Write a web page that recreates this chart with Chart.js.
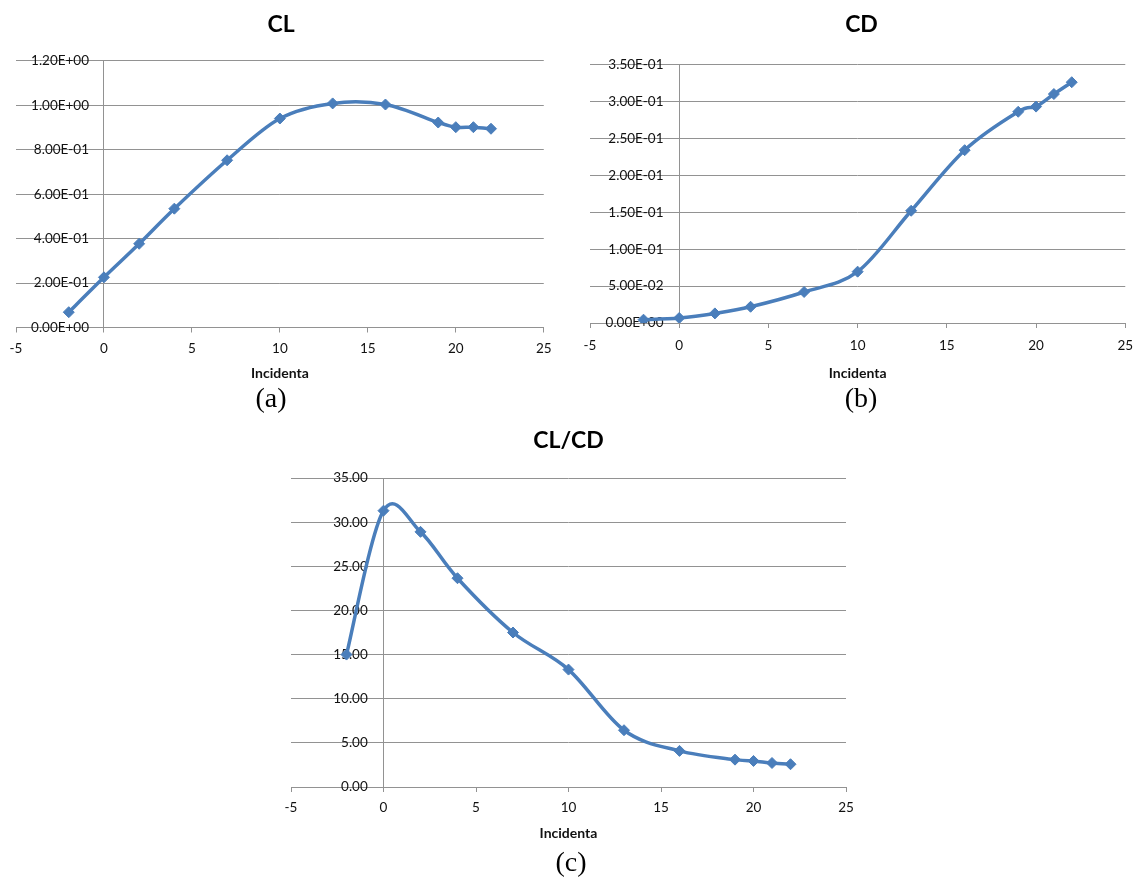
<!DOCTYPE html>
<html>
<head>
<meta charset="utf-8">
<script src="https://cdn.jsdelivr.net/npm/chart.js@4.4.1/dist/chart.umd.min.js"></script>
<style>
  html, body { margin: 0; padding: 0; background: #ffffff; }
  body { width: 1143px; height: 880px; position: relative; overflow: hidden; }
  canvas { position: absolute; }
  .caption {
    position: absolute; width: 100px; text-align: center;
    font-family: "Liberation Serif", "DejaVu Serif", serif;
    font-size: 28px; line-height: 32px; color: #000;
  }
</style>
</head>
<body>
<canvas id="chartCL" width="560" height="400" style="left:0px;top:0px;"></canvas>
<canvas id="chartCD" width="583" height="400" style="left:560px;top:0px;"></canvas>
<canvas id="chartCLCD" width="600" height="430" style="left:270px;top:420px;"></canvas>
<div class="caption" id="capA" style="left:221px;top:382px;"></div>
<div class="caption" id="capB" style="left:811px;top:382px;"></div>
<div class="caption" id="capC" style="left:521px;top:846px;"></div>
<script>
// ---- data ----
const incidence = [-2, 0, 2, 4, 7, 10, 13, 16, 19, 20, 21, 22];
const clValues = [0.069, 0.226, 0.377, 0.535, 0.753, 0.941, 1.009, 1.004, 0.923, 0.902, 0.902, 0.895];
const cdValues = [0.0045, 0.0068, 0.013, 0.022, 0.042, 0.0695, 0.152, 0.234, 0.286, 0.293, 0.310, 0.326];
const clcdValues = [15.0, 31.3, 28.9, 23.65, 17.5, 13.3, 6.43, 4.09, 3.1, 2.95, 2.72, 2.58];

const xTicks = [-5, 0, 5, 10, 15, 20, 25];
const clTickLabels = ['0.00E+00', '2.00E-01', '4.00E-01', '6.00E-01', '8.00E-01', '1.00E+00', '1.20E+00'];
const cdTickLabels = ['0.00E+00', '5.00E-02', '1.00E-01', '1.50E-01', '2.00E-01', '2.50E-01', '3.00E-01', '3.50E-01'];
const clcdTickLabels = ['0.00', '5.00', '10.00', '15.00', '20.00', '25.00', '30.00', '35.00'];

const titles = ['CL', 'CD', 'CL/CD'];
const captions = ['(a)', '(b)', '(c)'];
const xAxisTitle = 'Incidenta';

document.getElementById('capA').textContent = captions[0];
document.getElementById('capB').textContent = captions[1];
document.getElementById('capC').textContent = captions[2];

// ---- styling ----
const LINE_COLOR = '#4a7ebb';
const GRID_COLOR = '#929292';
const TEXT_COLOR = '#111111';
const SANS = 'Lato, "Open Sans", "Liberation Sans", sans-serif';

// Spreadsheet-style smoothed line: uniform Catmull-Rom control points
const smoothLinePlugin = {
  id: 'smoothLine',
  beforeDatasetsDraw(chart) {
    const k = 1 / 6;
    chart.getSortedVisibleDatasetMetas().forEach(meta => {
      const pts = meta.data;
      const n = pts.length;
      for (let i = 0; i < n; i++) {
        const p = pts[i];
        const prev = pts[Math.max(i - 1, 0)];
        const next = pts[Math.min(i + 1, n - 1)];
        const dx = next.x - prev.x, dy = next.y - prev.y;
        p.cp1x = p.x - k * dx; p.cp1y = p.y - k * dy;
        p.cp2x = p.x + k * dx; p.cp2y = p.y + k * dy;
      }
      if (meta.dataset) {
        meta.dataset._pointsUpdated = true;
        meta.dataset._path = undefined;
      }
    });
  }
};

function makeChart(id, values, yMax, yStep, yLabels, title, L) {
  const W = L.w, H = L.h;
  const titleSize = 23, titleLH = titleSize * 1.2;
  const tickSize = 13.5, tickLH = tickSize * 1.2;
  const xtSize = 14, xtLH = xtSize * 1.2;
  const tickLen = 5;
  const points = incidence.map((x, i) => ({ x: x, y: values[i] }));
  return new Chart(document.getElementById(id), {
    type: 'line',
    data: {
      datasets: [{
        data: points,
        borderColor: LINE_COLOR,
        backgroundColor: LINE_COLOR,
        borderWidth: 3.5,
        tension: 0.4,
        pointStyle: 'rectRot',
        pointRadius: 5.5,
        pointHoverRadius: 5.5,
        pointBorderWidth: 1,
        pointBorderColor: LINE_COLOR,
        pointBackgroundColor: LINE_COLOR,
        fill: false
      }]
    },
    plugins: [smoothLinePlugin],
    options: {
      responsive: false,
      animation: false,
      devicePixelRatio: 1,
      layout: { padding: { left: L.left, right: W - L.right, top: 0, bottom: 0 } },
      plugins: {
        legend: { display: false },
        tooltip: { enabled: false },
        title: {
          display: true,
          text: title,
          color: '#000000',
          font: { family: SANS, size: titleSize, weight: 'bold', lineHeight: 1.2 },
          padding: { top: L.titleY - titleLH / 2, bottom: L.top - L.titleY - titleLH / 2 }
        }
      },
      scales: {
        x: {
          type: 'linear',
          position: 'bottom',
          min: -5,
          max: 25,
          afterBuildTicks: (s) => { s.ticks = xTicks.map(v => ({ value: v })); },
          afterFit: (s) => { s.height = H - L.bottom; },
          grid: {
            drawOnChartArea: true,
            drawTicks: true,
            tickLength: tickLen,
            tickColor: GRID_COLOR,
            color: (ctx) => (ctx.tick && ctx.tick.value === 0) ? GRID_COLOR : 'rgba(0,0,0,0)',
            lineWidth: 1
          },
          border: { display: true, color: GRID_COLOR, width: 1 },
          ticks: {
            color: TEXT_COLOR,
            font: { family: SANS, size: tickSize, lineHeight: 1.2 },
            padding: L.xLabY - L.bottom - tickLen - tickLH / 2,
            maxRotation: 0,
            autoSkip: false
          },
          title: {
            display: true,
            text: xAxisTitle,
            color: TEXT_COLOR,
            font: { family: SANS, size: xtSize, weight: 'bold', lineHeight: 1.2 },
            padding: { top: 0, bottom: H - L.xTitleY - xtLH / 2 }
          }
        },
        y: {
          type: 'linear',
          position: { x: L.yLabelAt },
          min: 0,
          max: yMax,
          afterBuildTicks: (s) => { s.ticks = yLabels.map((_, i) => ({ value: i * yStep })); },
          grid: {
            drawOnChartArea: true,
            drawTicks: false,
            color: GRID_COLOR,
            lineWidth: 1
          },
          border: { display: false },
          ticks: {
            color: TEXT_COLOR,
            font: { family: SANS, size: tickSize, lineHeight: 1.2 },
            padding: 0,
            autoSkip: false,
            callback: (value, index) => yLabels[index]
          }
        }
      }
    }
  });
}

makeChart('chartCL', clValues, 1.2, 0.2, clTickLabels, titles[0],
  { w: 560, h: 400, left: 16, right: 546, top: 61, bottom: 327.5, titleY: 25, xLabY: 349, xTitleY: 373, yLabelAt: -0.85 });
makeChart('chartCD', cdValues, 0.35, 0.05, cdTickLabels, titles[1],
  { w: 583, h: 400, left: 30, right: 573, top: 64.5, bottom: 323, titleY: 25, xLabY: 346, xTitleY: 373, yLabelAt: -0.88 });
makeChart('chartCLCD', clcdValues, 35, 5, clcdTickLabels, titles[2],
  { w: 600, h: 430, left: 21, right: 576, top: 58, bottom: 367, titleY: 21, xLabY: 387.5, xTitleY: 413, yLabelAt: -0.85 });
</script>
</body>
</html>
